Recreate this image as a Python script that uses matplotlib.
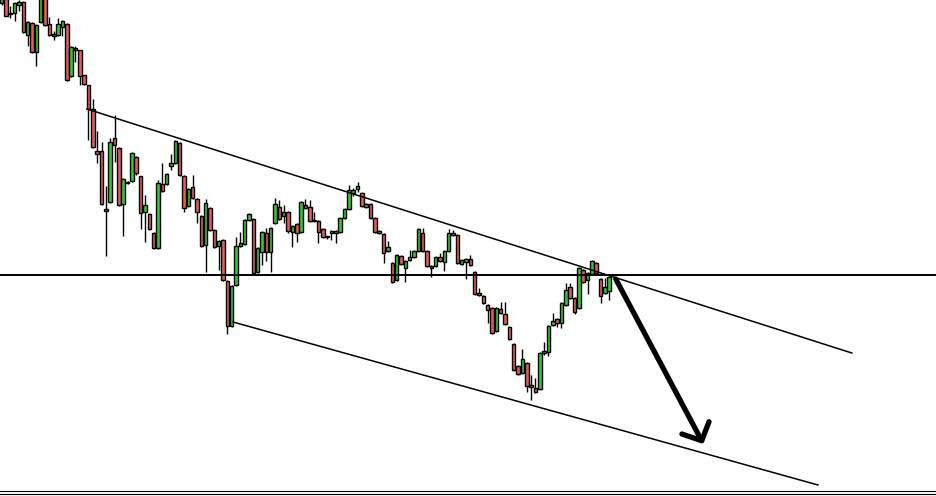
#Candlestick chart with descending channel
#prices in points

import numpy as np
import matplotlib.pyplot as plt

opens = [497, 503, 487, 487, 495, 498, 465, 477, 448, 478, 502, 476, 466, 465, 473, 476, 424, 452, 450, 425,
         415, 391, 349, 349, 291, 298, 362, 352, 296, 318, 319, 343, 324, 288, 286, 267, 252, 316, 316, 334,
         337, 357, 324, 294, 313, 301, 284, 255, 292, 270, 254, 260, 219, 174, 215, 254, 256, 280, 281, 228,
         248, 267, 248, 277, 293, 284, 288, 268, 276, 268, 295, 293, 280, 279, 271, 264, 267, 269, 268, 282,
         291, 307, 311, 307, 293, 296, 282, 267, 266, 249, 237, 220, 244, 232, 240, 243, 249, 267, 249, 232,
         234, 243, 238, 249, 267, 265, 236, 238, 241, 228, 207, 204, 195, 192, 169, 191, 186, 173, 156, 134,
         127, 137, 115, 112, 111, 147, 148, 175, 181, 177, 195, 213, 202, 192, 230, 220, 226, 237, 221, 207,
         209]
highs = [504, 505, 494, 498, 500, 499, 479, 478, 476, 504, 504, 483, 469, 482, 480, 477, 454, 454, 450, 425,
         415, 401, 369, 358, 314, 362, 385, 353, 322, 319, 348, 344, 324, 305, 287, 268, 320, 337, 327, 346,
         360, 358, 325, 312, 325, 302, 285, 301, 293, 271, 260, 261, 220, 215, 263, 268, 281, 287, 282, 253,
         269, 272, 273, 302, 300, 295, 289, 275, 277, 299, 301, 300, 288, 280, 272, 264, 270, 270, 283, 292,
         315, 312, 318, 308, 297, 297, 283, 270, 267, 259, 238, 246, 245, 240, 250, 250, 272, 272, 250, 235,
         244, 247, 250, 271, 270, 266, 241, 242, 245, 229, 212, 205, 196, 193, 193, 198, 198, 174, 157, 135,
         151, 138, 125, 122, 148, 158, 175, 187, 182, 198, 217, 217, 203, 233, 231, 228, 240, 238, 222, 222,
         224]
lows = [495, 484, 482, 479, 489, 467, 454, 447, 434, 477, 474, 464, 460, 464, 464, 419, 423, 438, 415, 415,
        360, 352, 337, 295, 244, 297, 338, 294, 264, 316, 318, 325, 271, 258, 270, 251, 251, 308, 315, 330,
        336, 324, 288, 293, 301, 277, 253, 228, 269, 252, 230, 219, 166, 173, 214, 253, 255, 279, 226, 227,
        235, 239, 228, 276, 280, 277, 267, 253, 258, 267, 291, 278, 278, 257, 262, 261, 260, 257, 267, 281,
        290, 304, 308, 293, 292, 281, 267, 266, 237, 248, 217, 219, 235, 218, 239, 242, 248, 248, 233, 223,
        233, 238, 229, 248, 264, 236, 235, 221, 234, 205, 204, 196, 177, 166, 168, 186, 175, 160, 129, 125,
        126, 108, 100, 107, 110, 145, 144, 174, 173, 172, 194, 201, 186, 191, 217, 206, 225, 226, 197, 206,
        200]
closes = [502, 484, 486, 497, 498, 468, 478, 448, 475, 502, 475, 465, 464, 476, 479, 420, 453, 450, 424, 416,
          391, 353, 346, 296, 289, 358, 355, 295, 321, 317, 347, 327, 287, 295, 271, 252, 317, 309, 326, 337,
          359, 325, 292, 311, 302, 288, 254, 297, 270, 253, 259, 220, 174, 214, 254, 257, 280, 286, 227, 252,
          268, 248, 272, 296, 281, 288, 269, 274, 267, 298, 292, 279, 279, 268, 263, 263, 269, 267, 282, 291,
          310, 310, 314, 294, 296, 282, 268, 269, 247, 253, 218, 245, 236, 239, 243, 249, 271, 249, 234, 234,
          243, 239, 249, 267, 265, 237, 240, 241, 235, 206, 205, 197, 190, 167, 192, 187, 176, 161, 130, 126,
          141, 114, 113, 108, 147, 149, 174, 179, 177, 197, 210, 202, 188, 232, 218, 227, 239, 227, 204, 213,
          223]

# drawn objects: (bar index, price)
upper_line = [(19.65, 391), (195.9, 147)]
lower_line = [(53.3, 178), (188.1, 15)]
support = 225
arrow = [(141.5, 221), (161.3, 59.3)]
arrow_head = [(156.75, 66), (161.3, 59.3), (163.0, 78.3)]

o = np.array(opens, float)
h = np.array(highs, float)
l = np.array(lows, float)
c = np.array(closes, float)
x = np.arange(len(o))

fig = plt.figure(figsize=(9.36, 4.96), dpi=100)
ax = fig.add_axes([0, 0, 1, 1])
ax.set_xlim(-0.39, 215.3)
ax.set_ylim(4, 500)
ax.axis('off')

up = c >= o
cols = np.where(up, '#36c836', '#e05e5e')

ax.vlines(x, l, h, color='black', lw=1.0, zorder=2)
bottom = np.minimum(o, c)
height = np.maximum(np.abs(c - o), 0.9)
ax.bar(x, height, bottom=bottom, width=0.8, color=cols, edgecolor='black', lw=1.0, zorder=3)

ax.axhline(support, color='black', lw=1.4, zorder=4)
ax.plot(*zip(*upper_line), color='black', lw=1.1, zorder=4)
ax.plot(*zip(*lower_line), color='black', lw=1.1, zorder=4)
ax.plot(*zip(*arrow), color='black', lw=3.8, solid_capstyle='round', zorder=5)
ax.plot(*zip(*arrow_head), color='black', lw=3.8, solid_capstyle='round',
        solid_joinstyle='round', zorder=5)

ax.axhline(9, color='black', lw=0.8)
ax.axhline(6, color='black', lw=0.8)

plt.savefig('out.png', dpi=100)
